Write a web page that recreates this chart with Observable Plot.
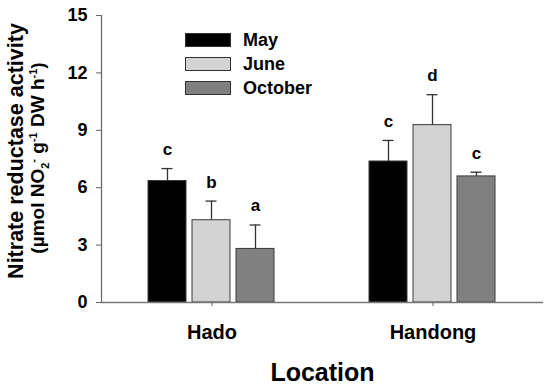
<!DOCTYPE html>
<html><head><meta charset="utf-8">
<script src="https://cdn.jsdelivr.net/npm/d3@7"></script>
<script src="https://cdn.jsdelivr.net/npm/@observablehq/plot@0.6"></script>
<style>
body{margin:0;background:#fff;font-family:"Liberation Sans",Arial,sans-serif;}
#wrap{position:relative;width:550px;height:386px;overflow:hidden;}
#wrap svg text{font-weight:bold;}
g[aria-label="fx-axis label"] text{font-size:25px;}
#legend{position:absolute;left:185px;top:28px;font-weight:bold;font-size:18px;}
#legend .row{display:flex;align-items:center;height:24px;}
#legend .sw{width:44px;height:12px;border:1px solid #333;margin-right:12px;}
#ytitle{position:absolute;width:320px;left:-133px;top:127px;height:44px;transform:rotate(-90deg);transform-origin:center center;text-align:center;font-weight:bold;color:#000;}
#ytitle .l1{font-size:21.5px;line-height:22px;position:relative;left:-2px;}
#ytitle .l2{font-size:19px;line-height:22px;position:relative;left:-9px;}
#ytitle sub,#ytitle sup{font-size:11px;line-height:0;}
</style></head><body><div id="wrap"></div>
<script>
const locations = ["Hado", "Handong"];
const months = ["May", "June", "October"];
const colors = ["#000000", "#d3d3d3", "#808080"];
const hadoValues = [6.35, 4.3, 2.8];
const hadoErrors = [0.65, 1.0, 1.25];
const hadoLetters = ["c", "b", "a"];
const handongValues = [7.37, 9.27, 6.59];
const handongErrors = [1.1, 1.59, 0.22];
const handongLetters = ["c", "d", "c"];
const yTicks = [0, 3, 6, 9, 12, 15];

const values = [hadoValues, handongValues];
const errors = [hadoErrors, handongErrors];
const letters = [hadoLetters, handongLetters];
const data = [];
locations.forEach((loc, i) => months.forEach((m, j) => data.push({
  location: loc, month: m, value: values[i][j], err: errors[i][j], top: values[i][j] + errors[i][j], letter: letters[i][j]
})));

const plot = Plot.plot({
  width: 550, height: 386,
  marginLeft: 101, marginRight: 7, marginTop: 15, marginBottom: 84,
  style: {fontFamily: "'Liberation Sans', Arial, sans-serif", background: "#fff", color: "#000", overflow: "visible"},
  fx: {domain: locations, padding: 0},
  x: {domain: months, paddingInner: 0.135, paddingOuter: 1.056, axis: null},
  y: {domain: [0, 15]},
  color: {domain: months, range: colors},
  marks: [
    Plot.barY(data, {fx: "location", x: "month", y: "value", fill: "month", stroke: "#3a3a3a", strokeWidth: 1}),
    Plot.ruleX(data, {fx: "location", x: "month", y1: "value", y2: "top", stroke: "#333", strokeWidth: 1.3}),
    Plot.tickY(data, {fx: "location", x: "month", y: "top", stroke: "#333", strokeWidth: 1.3, insetLeft: 13.5, insetRight: 13.5}),
    Plot.text(data, {fx: "location", x: "month", y: "top", text: "letter", dy: -19, fontSize: 17, fontWeight: "bold"}),
    Plot.ruleY([0], {stroke: "#777", strokeWidth: 1.5}),
    Plot.frame({anchor: "left", facetAnchor: "left", stroke: "#666", strokeWidth: 1.2}),
    Plot.axisY({ticks: yTicks, tickSize: 5, tickPadding: 9, fontSize: 18, fontWeight: "bold", label: null, stroke: "#666"}),
    Plot.axisFx({anchor: "bottom", tickSize: 4, tickPadding: 18, fontSize: 20, fontWeight: "bold", label: "Location", labelAnchor: "center", labelOffset: 78, stroke: "#666"})
  ]
});
const wrap = document.getElementById("wrap");
wrap.appendChild(plot);

const legend = document.createElement("div");
legend.id = "legend";
months.forEach((m, i) => {
  const row = document.createElement("div");
  row.className = "row";
  const sw = document.createElement("div");
  sw.className = "sw";
  sw.style.background = colors[i];
  const t = document.createElement("span");
  t.textContent = m;
  row.appendChild(sw); row.appendChild(t);
  legend.appendChild(row);
});
wrap.appendChild(legend);

const yt = document.createElement("div");
yt.id = "ytitle";
yt.innerHTML = '<div class="l1">Nitrate reductase activity</div><div class="l2">(µmol NO<sub>2</sub><sup>-</sup> g<sup>-1</sup> DW h<sup>-1</sup>)</div>';
wrap.appendChild(yt);
</script>
</body></html>
